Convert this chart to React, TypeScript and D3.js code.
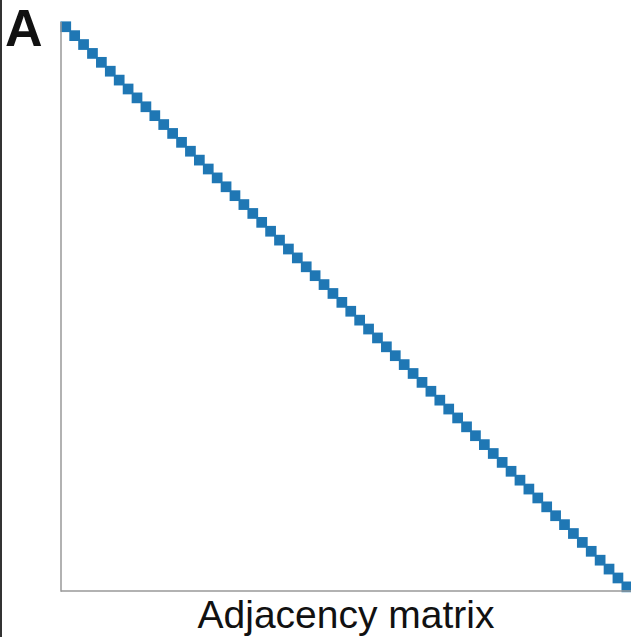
import React from 'react';
import * as d3 from 'd3';

// node order of the adjacency matrix (64 nodes)
const nodes = [
  0, 1, 2, 3, 4, 5, 6, 7, 8, 9, 10, 11, 12, 13, 14, 15,
  16, 17, 18, 19, 20, 21, 22, 23, 24, 25, 26, 27, 28, 29, 30, 31,
  32, 33, 34, 35, 36, 37, 38, 39, 40, 41, 42, 43, 44, 45, 46, 47,
  48, 49, 50, 51, 52, 53, 54, 55, 56, 57, 58, 59, 60, 61, 62, 63,
];

// non-zero entries: [row, col] (self links only)
const links = [
  [0, 0], [1, 1], [2, 2], [3, 3], [4, 4], [5, 5], [6, 6], [7, 7],
  [8, 8], [9, 9], [10, 10], [11, 11], [12, 12], [13, 13], [14, 14], [15, 15],
  [16, 16], [17, 17], [18, 18], [19, 19], [20, 20], [21, 21], [22, 22], [23, 23],
  [24, 24], [25, 25], [26, 26], [27, 27], [28, 28], [29, 29], [30, 30], [31, 31],
  [32, 32], [33, 33], [34, 34], [35, 35], [36, 36], [37, 37], [38, 38], [39, 39],
  [40, 40], [41, 41], [42, 42], [43, 43], [44, 44], [45, 45], [46, 46], [47, 47],
  [48, 48], [49, 49], [50, 50], [51, 51], [52, 52], [53, 53], [54, 54], [55, 55],
  [56, 56], [57, 57], [58, 58], [59, 59], [60, 60], [61, 61], [62, 62], [63, 63],
];

const panelLabel = 'A';
const xTitle = 'Adjacency matrix';

export default function App() {
  const width = 631;
  const height = 637;
  const left = 61, right = 631, top = 22, bottom = 591;

  const x = d3.scaleBand<number>().domain(nodes).range([left, right]);
  const y = d3.scaleBand<number>().domain(nodes).range([top, bottom]);
  const bw = x.bandwidth();
  const pad = 1.2; // cells are drawn a bit larger so they touch

  return (
    <div style={{ position: 'fixed', left: 0, top: 0 }}>
      <svg width={width} height={height} style={{ display: 'block', background: '#fff' }}>
        <line x1={1} x2={1} y1={0} y2={height} stroke="#333" strokeWidth={2} />
        <text x={5} y={46} fontFamily="Liberation Sans, Arial, sans-serif"
          fontWeight="bold" fontSize={52} fill="#111">{panelLabel}</text>

        {links.map(([r, c]) => (
          <rect key={r + '-' + c} x={(x(c) as number) - pad / 2} y={(y(r) as number) - pad / 2}
            width={bw + pad * 1.5} height={bw + pad * 1.5} fill="#1f77b4" />
        ))}

        <line x1={left} x2={left} y1={top} y2={bottom + 0.75} stroke="#999" strokeWidth={1.5} />
        <line x1={left} x2={right} y1={bottom} y2={bottom} stroke="#999" strokeWidth={1.5} />

        <text x={(left + right) / 2} y={628} textAnchor="middle"
          fontFamily="Liberation Sans, Arial, sans-serif" fontSize={39} fill="#111">{xTitle}</text>
      </svg>
    </div>
  );
}
